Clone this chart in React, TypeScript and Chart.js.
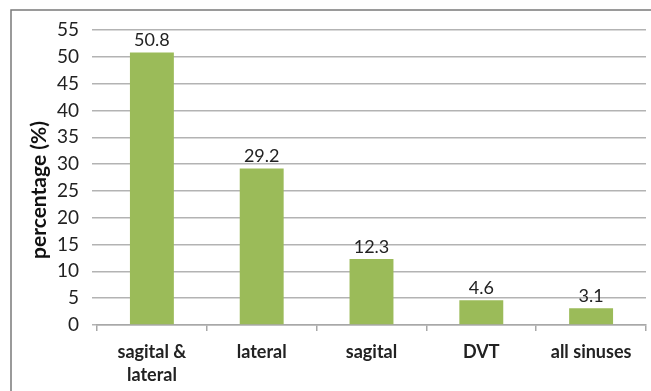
import React, { useEffect, useRef } from "react";
import { Chart, registerables } from "chart.js";

Chart.register(...registerables);

const categories: (string | string[])[] = [["sagital &", "lateral"], "lateral", "sagital", "DVT", "all sinuses"];
const percentages: number[] = [50.8, 29.2, 12.3, 4.6, 3.1];
const yTicks: number[] = [0, 5, 10, 15, 20, 25, 30, 35, 40, 45, 50, 55];
const yTitle = "percentage (%)";

const FONT = "Lato, 'Open Sans', sans-serif";

const framePlugin = {
  id: "frame",
  afterDraw(chart: any) {
    const ctx = chart.ctx;
    ctx.save();
    ctx.strokeStyle = "#7a7a7a";
    ctx.lineWidth = 1.5;
    ctx.strokeRect(11, 10, 700, 500);
    // y axis title
    ctx.translate(39, 190);
    ctx.rotate(-Math.PI / 2);
    ctx.font = `bold 21px ${FONT}`;
    ctx.fillStyle = "#111";
    ctx.textAlign = "center";
    ctx.textBaseline = "middle";
    ctx.fillText(yTitle, 0, 0);
    ctx.restore();
  },
};

const valueLabels = {
  id: "valueLabels",
  afterDatasetsDraw(chart: any) {
    const ctx = chart.ctx;
    const meta = chart.getDatasetMeta(0);
    ctx.save();
    ctx.font = `18px ${FONT}`;
    ctx.fillStyle = "#222";
    ctx.textAlign = "center";
    ctx.textBaseline = "bottom";
    meta.data.forEach((bar: any, i: number) => {
      ctx.fillText(percentages[i].toFixed(1), bar.x, bar.y - 3);
    });
    ctx.restore();
  },
};

export default function App() {
  const ref = useRef<HTMLCanvasElement>(null);
  useEffect(() => {
    if (!ref.current) return;
    const chart = new Chart(ref.current, {
      type: "bar",
      data: {
        labels: categories as any,
        datasets: [
          {
            data: percentages,
            backgroundColor: "#9bbb59",
            borderWidth: 0,
            barPercentage: 0.4,
            categoryPercentage: 1,
          },
        ],
      },
      options: {
        animation: false,
        responsive: false,
        devicePixelRatio: 1,
        layout: { padding: { left: 20, right: 5, top: 30, bottom: 0 } },
        plugins: { legend: { display: false }, tooltip: { enabled: false } },
        scales: {
          x: {
            grid: {
              display: true,
              drawOnChartArea: false,
              drawTicks: true,
              tickLength: 6,
              color: "#a8a8a8",
              lineWidth: 1.5,
            },
            border: { display: true, color: "#a8a8a8", width: 1.5 },
            ticks: {
              color: "#222",
              font: { family: FONT, size: 18, weight: "bold", lineHeight: 1.3 },
              padding: 9,
              maxRotation: 0,
              autoSkip: false,
            },
            afterFit(scale: any) {
              scale.height = 66;
            },
          },
          y: {
            min: 0,
            max: 55,
            afterBuildTicks(scale: any) {
              scale.ticks = yTicks.map((v) => ({ value: v }));
            },
            grid: {
              color: "#b3b3b3",
              lineWidth: 1.5,
              tickLength: 5,
            },
            border: { display: false },
            ticks: {
              color: "#222",
              font: { family: FONT, size: 19 },
              padding: 13,
            },
            title: { display: false },
            afterFit(scale: any) {
              scale.width = 77;
            },
          },
        },
      },
      plugins: [framePlugin, valueLabels],
    });
    return () => chart.destroy();
  }, []);
  return (
    <div style={{ position: "fixed", left: 0, top: 0, width: 651, height: 391, background: "#fff" }}>
      <canvas ref={ref} width={651} height={391} style={{ width: 651, height: 391 }} />
    </div>
  );
}
